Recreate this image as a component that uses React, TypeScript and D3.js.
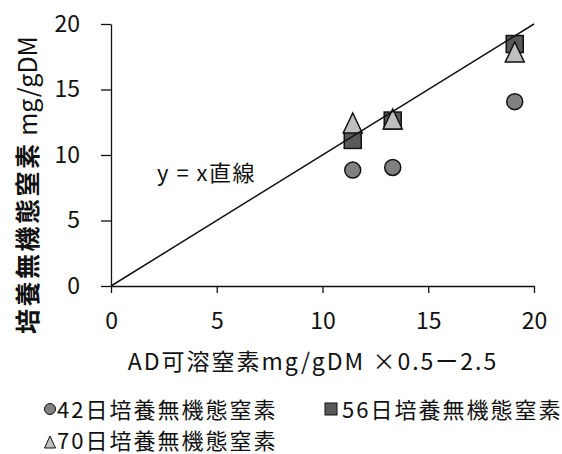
import React, { useEffect, useRef } from 'react';
import * as d3 from 'd3';

const width = 562;
const height = 454;
const plot = { left: 111, right: 534, top: 24, bottom: 286 };

const xValues = [11.43, 13.32, 19.09];
const n42Values = [8.85, 9.05, 14.07];
const n56Values = [11.15, 12.63, 18.47];
const n70Values = [12.44, 12.75, 17.86];
const tickValues = [0, 5, 10, 15, 20];
const legendLabels = ['42日培養無機態窒素', '56日培養無機態窒素', '70日培養無機態窒素'];

const font = '"Noto Sans CJK JP", "Noto Sans", sans-serif';

const trianglePath = (w: number, h: number) =>
  `M0,${-h / 2}L${w / 2},${h / 2}L${-w / 2},${h / 2}Z`;

export default function App() {
  const ref = useRef<SVGSVGElement>(null);

  useEffect(() => {
    if (!ref.current) return;
    const svg = d3.select(ref.current);
    svg.selectAll('*').remove();

    const x = d3.scaleLinear().domain([0, 20]).range([plot.left, plot.right]);
    const y = d3.scaleLinear().domain([0, 20]).range([plot.bottom, plot.top]);

    // axes
    const xAxis = svg
      .append('g')
      .attr('transform', `translate(0, ${plot.bottom})`)
      .call(
        d3
          .axisBottom(x)
          .tickValues(tickValues)
          .tickSizeInner(7)
          .tickSizeOuter(0)
          .tickPadding(20)
      );
    const yAxis = svg
      .append('g')
      .attr('transform', `translate(${plot.left}, 0)`)
      .call(
        d3
          .axisLeft(y)
          .tickValues(tickValues)
          .tickSizeInner(10)
          .tickSizeOuter(0)
          .tickPadding(21)
      );
    [xAxis, yAxis].forEach((g) => {
      g.select('.domain').attr('stroke', '#111').attr('stroke-width', 1.3);
      g.selectAll('.tick line').attr('stroke', '#111').attr('stroke-width', 1.3);
      g.selectAll('.tick text')
        .attr('font-family', font)
        .attr('font-size', 23)
        .attr('fill', '#111');
    });

    const pts = (vals: number[]) => vals.map((v, i) => ({ x: xValues[i], y: v }));

    // 42 day - circles
    svg
      .append('g')
      .selectAll('circle')
      .data(pts(n42Values))
      .enter()
      .append('circle')
      .attr('cx', (d) => x(d.x))
      .attr('cy', (d) => y(d.y))
      .attr('r', 8)
      .attr('fill', '#808080')
      .attr('stroke', '#111')
      .attr('stroke-width', 1.5);

    // 56 day - squares
    svg
      .append('g')
      .selectAll('rect')
      .data(pts(n56Values))
      .enter()
      .append('rect')
      .attr('x', (d) => x(d.x) - 8.5)
      .attr('y', (d) => y(d.y) - 8.5)
      .attr('width', 17)
      .attr('height', 17)
      .attr('fill', '#595959')
      .attr('stroke', '#111')
      .attr('stroke-width', 1.5);

    // 70 day - triangles
    svg
      .append('g')
      .selectAll('path')
      .data(pts(n70Values))
      .enter()
      .append('path')
      .attr('d', trianglePath(19, 20))
      .attr('transform', (d) => `translate(${x(d.x)}, ${y(d.y)})`)
      .attr('fill', '#bfbfbf')
      .attr('stroke', '#111')
      .attr('stroke-width', 1.5);

    // y = x line
    svg
      .append('line')
      .attr('x1', x(0))
      .attr('y1', y(0))
      .attr('x2', x(20))
      .attr('y2', y(20))
      .attr('stroke', '#111')
      .attr('stroke-width', 1.5);

    svg
      .append('text')
      .attr('x', 157)
      .attr('y', 171)
      .attr('dominant-baseline', 'central')
      .attr('font-family', font)
      .attr('font-size', 22)
      .attr('letter-spacing', 1.5)
      .attr('fill', '#111')
      .text('y = x直線');

    // axis titles
    svg
      .append('text')
      .attr('x', 313)
      .attr('y', 360)
      .attr('text-anchor', 'middle')
      .attr('dominant-baseline', 'central')
      .attr('font-family', font)
      .attr('font-size', 23)
      .attr('letter-spacing', 2)
      .attr('fill', '#111')
      .text('AD可溶窒素mg/gDM ×0.5ー2.5');

    const yTitle = svg
      .append('text')
      .attr('transform', 'translate(26, 185) rotate(-90)')
      .attr('text-anchor', 'middle')
      .attr('dominant-baseline', 'central')
      .attr('font-family', font)
      .attr('font-size', 25)
      .attr('fill', '#111');
    yTitle
      .append('tspan')
      .attr('font-weight', 700)
      .attr('letter-spacing', 2.5)
      .text('培養無機態窒素');
    yTitle.append('tspan').text('  mg/gDM');

    // legend
    const legend = svg
      .append('g')
      .attr('font-family', font)
      .attr('font-size', 22)
      .attr('letter-spacing', 2)
      .attr('fill', '#111');

    legend
      .append('circle')
      .attr('cx', 50)
      .attr('cy', 409)
      .attr('r', 5.5)
      .attr('fill', '#808080')
      .attr('stroke', '#111');
    legend
      .append('rect')
      .attr('x', 325)
      .attr('y', 403)
      .attr('width', 12)
      .attr('height', 12)
      .attr('fill', '#595959')
      .attr('stroke', '#111');
    legend
      .append('path')
      .attr('d', trianglePath(11, 12))
      .attr('transform', 'translate(50, 442)')
      .attr('fill', '#bfbfbf')
      .attr('stroke', '#111');

    const legendPos = [
      { x: 57, y: 408 },
      { x: 342, y: 408 },
      { x: 57, y: 439 },
    ];
    legend
      .selectAll('text')
      .data(legendLabels)
      .enter()
      .append('text')
      .attr('x', (_, i) => legendPos[i].x)
      .attr('y', (_, i) => legendPos[i].y)
      .attr('dominant-baseline', 'central')
      .text((d) => d);
  }, []);

  return (
    <svg
      ref={ref}
      width={width}
      height={height}
      style={{ position: 'absolute', left: 0, top: 0, background: '#fff' }}
    />
  );
}
